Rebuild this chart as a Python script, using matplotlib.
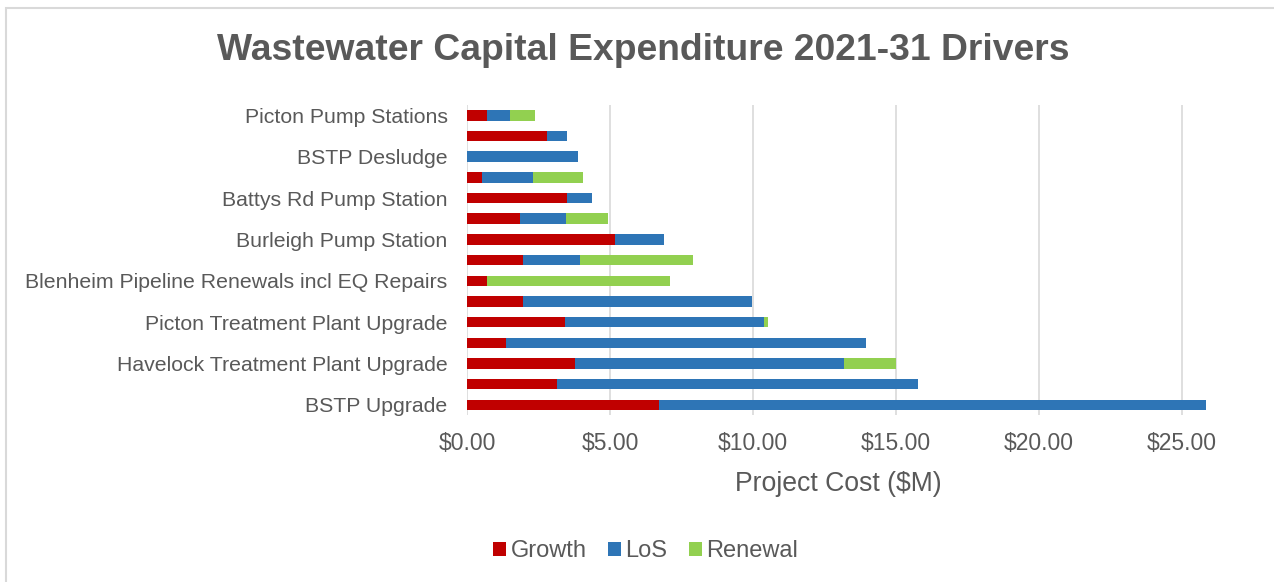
import numpy as np
import matplotlib
matplotlib.use("Agg")
import matplotlib.pyplot as plt
from matplotlib.patches import Rectangle

plt.rcParams["font.family"] = ["Liberation Sans", "DejaVu Sans"]

# projects listed bottom to top; every second label is hidden on the axis
projects = [
    "BSTP Upgrade", "",
    "Havelock Treatment Plant Upgrade", "",
    "Picton Treatment Plant Upgrade", "",
    "Blenheim Pipeline Renewals incl EQ Repairs", "",
    "Burleigh Pump Station", "",
    "Battys Rd Pump Station", "",
    "BSTP Desludge", "",
    "Picton Pump Stations",
]
growth = [6.70, 3.15, 3.77, 1.37, 3.42, 1.96, 0.70, 1.96, 5.19, 1.86, 3.49, 0.53, 0.00, 2.81, 0.70]
los = [19.13, 12.63, 9.40, 12.58, 6.95, 8.02, 0.00, 1.98, 1.70, 1.60, 0.89, 1.78, 3.88, 0.70, 0.82]
renewal = [0.00, 0.00, 1.85, 0.00, 0.15, 0.00, 6.39, 3.96, 0.00, 1.48, 0.00, 1.74, 0.00, 0.00, 0.86]

drivers = ["Growth", "LoS", "Renewal"]
colors = ["#C00000", "#2E75B6", "#92D050"]
TEXT = "#595959"
GRID = "#D9D9D9"

W, H = 1274, 582
fig = plt.figure(figsize=(W / 100, H / 100), dpi=100)
ax = fig.add_axes([467 / W, 1 - 415 / H, (1209 - 467) / W, (415 - 105) / H])

y = np.arange(len(projects))
left = np.zeros(len(projects))
for name, vals, col in zip(drivers, [growth, los, renewal], colors):
    vals = np.array(vals)
    ax.barh(y, vals, left=left, height=0.5, color=col, label=name)
    left += vals

ax.set_ylim(-0.5, len(projects) - 0.5)
ax.set_xlim(0, 25.95)
ax.set_xticks(np.arange(0, 26, 5))
ax.set_xticklabels([f"${v:.2f}" for v in np.arange(0, 26, 5)])
ax.set_yticks(y[::2])
ax.set_yticklabels(projects[::2])

ax.grid(axis="x", color=GRID, linewidth=1.2)
ax.set_axisbelow(True)
for s in ax.spines.values():
    s.set_visible(False)
ax.tick_params(axis="x", length=0, pad=12, labelsize=16.5, labelcolor=TEXT)
ax.tick_params(axis="y", length=0, pad=14, labelsize=15.3, labelcolor=TEXT)
ax.set_xlabel("Project Cost ($M)", fontsize=19.2, color=TEXT, labelpad=12)

fig.text(0.5047, 1 - 51 / H, "Wastewater Capital Expenditure 2021-31 Drivers",
         ha="center", va="center", fontsize=26.8, fontweight="bold", color=TEXT)

leg = fig.legend(loc="center", bbox_to_anchor=(0.5067, 1 - 551 / H), ncol=3,
                 frameon=False, fontsize=17, handlelength=0.55, handleheight=0.55,
                 handletextpad=0.2, columnspacing=0.9)
for t in leg.get_texts():
    t.set_color(TEXT)

# chart border
fig.add_artist(Rectangle((6 / W, -0.1), 1.2, 0.1 + 1 - 8 / H, transform=fig.transFigure,
                         fill=False, edgecolor=GRID, linewidth=1.5))

fig.savefig("out.png", dpi=100)
